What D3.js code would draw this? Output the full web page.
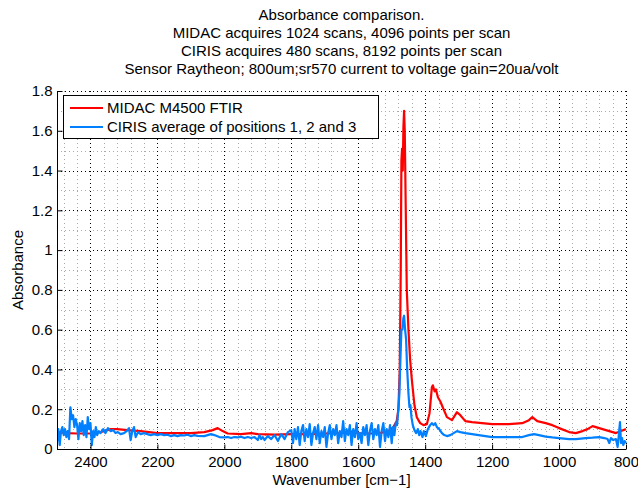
<!DOCTYPE html>
<html><head><meta charset="utf-8">
<script src="https://cdn.jsdelivr.net/npm/d3@7"></script>
<style>body{margin:0;background:#fff}svg{display:block}text{font-family:"Liberation Sans",Arial,sans-serif}</style>
</head><body><div id="chart"></div>
<script>
const titleLines = ["Absorbance comparison.","MIDAC acquires 1024 scans, 4096 points per scan","CIRIS acquires 480 scans, 8192 points per scan","Sensor Raytheon; 800um;sr570 current to voltage gain=20ua/volt"];
const xLabel = "Wavenumber [cm\u22121]";
const yLabel = "Absorbance";
const seriesNames = ["MIDAC M4500 FTIR","CIRIS average of positions 1, 2 and 3"];
const xTicks = [2400,2200,2000,1800,1600,1400,1200,1000,800];
const yTicks = [0,0.2,0.4,0.6,0.8,1,1.2,1.4,1.6,1.8];

const midacWn = [2500,2470,2440,2400,2370,2340,2320,2290,2250,2200,2150,2100,2060,2035,2020,2005,1990,1950,1920,1900,1850,1800,1750,1700,1650,1620,1600,1560,1530,1510,1495,1485,1480,1476,1473,1471,1469,1467,1465,1463,1461,1458,1455,1450,1445,1440,1432,1425,1415,1405,1395,1387,1380,1377,1372,1368,1362,1355,1345,1335,1320,1305,1295,1280,1260,1230,1200,1150,1110,1090,1080,1065,1040,1020,1000,970,950,930,915,900,890,870,850,830,815,800];
const midacAbs = [0.085,0.08,0.078,0.078,0.085,0.1,0.1,0.095,0.09,0.08,0.08,0.08,0.085,0.095,0.105,0.09,0.078,0.075,0.08,0.075,0.072,0.075,0.075,0.078,0.08,0.088,0.08,0.078,0.082,0.09,0.11,0.14,0.2,0.4,0.9,1.45,1.51,1.4,1.62,1.70,1.6,1.2,0.8,0.6,0.45,0.35,0.22,0.16,0.13,0.12,0.125,0.18,0.31,0.32,0.29,0.3,0.26,0.24,0.2,0.16,0.145,0.185,0.17,0.14,0.135,0.13,0.125,0.125,0.13,0.145,0.16,0.14,0.13,0.12,0.105,0.085,0.08,0.09,0.1,0.115,0.11,0.1,0.09,0.08,0.09,0.1];

const cirisWn = [2500,2496,2492,2488,2484,2480,2476,2472,2468,2464,2460,2456,2452,2448,2444,2440,2436,2432,2428,2424,2420,2416,2412,2408,2404,2400,2396,2392,2388,2384,2380,2375,2370,2362,2355,2348,2340,2332,2325,2318,2310,2300,2292,2285,2280,2275,2270,2265,2258,2250,2240,2230,2220,2210,2200,2190,2180,2170,2160,2150,2140,2130,2120,2110,2100,2090,2080,2060,2040,2030,2015,2000,1990,1980,1970,1960,1950,1940,1930,1920,1910,1900,1895,1890,1885,1880,1870,1860,1850,1840,1830,1820,1810,1800,1795,1790,1785,1780,1775,1770,1765,1760,1755,1750,1745,1740,1735,1730,1725,1720,1715,1710,1705,1700,1695,1690,1685,1680,1675,1670,1665,1660,1655,1650,1645,1640,1635,1630,1625,1620,1615,1610,1605,1600,1595,1590,1585,1580,1575,1570,1565,1560,1555,1550,1545,1540,1535,1530,1525,1520,1515,1510,1505,1500,1496,1492,1488,1484,1480,1477,1474,1471,1468,1465,1463,1460,1457,1454,1450,1447,1444,1441,1437,1432,1427,1422,1418,1414,1408,1404,1398,1392,1385,1380,1375,1370,1365,1358,1350,1343,1335,1325,1315,1305,1295,1280,1260,1240,1220,1200,1150,1110,1090,1075,1060,1040,1020,1000,970,950,920,900,880,865,855,850,845,838,830,825,822,818,815,812,808,804,800];
const cirisAbs = [0.04,0.10,0.02,0.09,0.11,0.07,0.10,0.06,0.09,0.05,0.21,0.15,0.17,0.11,0.15,0.12,0.05,0.13,0.09,0.14,0.07,0.12,0.06,0.16,0.10,0.13,0.02,0.09,0.06,0.11,0.07,0.09,0.08,0.10,0.08,0.105,0.09,0.095,0.08,0.085,0.075,0.08,0.09,0.105,0.045,0.09,0.11,0.06,0.085,0.075,0.08,0.075,0.07,0.075,0.07,0.075,0.07,0.072,0.065,0.07,0.065,0.07,0.068,0.072,0.065,0.07,0.066,0.065,0.075,0.07,0.06,0.058,0.06,0.055,0.06,0.058,0.062,0.055,0.06,0.055,0.06,0.045,0.07,0.05,0.06,0.045,0.065,0.05,0.07,0.04,0.075,0.05,0.085,0.095,0.03,0.10,0.05,0.11,0.02,0.09,0.12,0.04,0.10,0.06,0.125,0.02,0.08,0.11,0.05,0.12,0.03,0.09,0.06,0.11,0.01,0.08,0.12,0.05,0.10,0.07,0.12,0.03,0.09,0.06,0.14,0.04,0.10,0.07,0.12,0.02,0.10,0.06,0.13,0.05,0.08,0.03,0.11,0.07,0.12,0.02,0.09,0.13,0.05,0.10,0.07,0.12,0.01,0.09,0.13,0.04,0.10,0.06,0.12,0.03,0.11,0.07,0.13,0.12,0.20,0.28,0.45,0.60,0.60,0.66,0.67,0.60,0.55,0.41,0.28,0.21,0.22,0.16,0.12,0.095,0.08,0.10,0.07,0.09,0.06,0.09,0.065,0.10,0.12,0.13,0.12,0.13,0.11,0.10,0.08,0.07,0.065,0.07,0.08,0.09,0.085,0.08,0.075,0.07,0.065,0.06,0.06,0.06,0.07,0.075,0.07,0.062,0.058,0.055,0.05,0.05,0.055,0.057,0.06,0.055,0.05,0.03,0.055,0.045,0.05,0.01,0.06,0.135,0.03,0.055,0.02,0.04,0.03];

const W = 638, H = 490;
const m = {left:57, right:626, top:91, bottom:449};
const FS = 15;
const svg = d3.select("#chart").append("svg").attr("width",W).attr("height",H);
const x = d3.scaleLinear().domain([2500,800]).range([m.left,m.right]);
const y = d3.scaleLinear().domain([0,1.8]).range([m.bottom,m.top]);

// minor grid
const xMinor = d3.range(2480, 799, -40).filter(v => v % 200 !== 0);
const yMinor = d3.range(1,18,2).map(d => d/10);
const g = svg.append("g");
g.selectAll(".vx").data(xMinor).join("line")
  .attr("x1",d=>Math.round(x(d))+0.5).attr("x2",d=>Math.round(x(d))+0.5).attr("y1",m.top).attr("y2",m.bottom)
  .attr("stroke","#aaa").attr("stroke-width",1).attr("stroke-dasharray","1,3");
g.selectAll(".hy").data(yMinor).join("line")
  .attr("y1",d=>Math.round(y(d))+0.5).attr("y2",d=>Math.round(y(d))+0.5).attr("x1",m.left).attr("x2",m.right)
  .attr("stroke","#aaa").attr("stroke-width",1).attr("stroke-dasharray","1,3");
// major grid
g.selectAll(".mx").data(xTicks).join("line")
  .attr("x1",d=>Math.round(x(d))+0.5).attr("x2",d=>Math.round(x(d))+0.5).attr("y1",m.top).attr("y2",m.bottom)
  .attr("stroke","#000").attr("stroke-width",1).attr("stroke-dasharray","1,3");
g.selectAll(".my").data(yTicks.filter(d=>d>0)).join("line")
  .attr("y1",d=>Math.round(y(d))+0.5).attr("y2",d=>Math.round(y(d))+0.5).attr("x1",m.left).attr("x2",m.right)
  .attr("stroke","#000").attr("stroke-width",1).attr("stroke-dasharray","1,3");

// data
svg.append("clipPath").attr("id","clip").append("rect")
  .attr("x",m.left).attr("y",m.top-2).attr("width",m.right-m.left+2).attr("height",m.bottom-m.top+2);
const line = d3.line().x(d=>x(d[0])).y(d=>y(d[1]));
const midac = midacWn.map((w,i)=>[w,midacAbs[i]]);
const ciris = cirisWn.map((w,i)=>[w,cirisAbs[i]]);
const colors = ["#ff0000","#0080ff"];
svg.append("path").datum(midac).attr("d",line).attr("fill","none").attr("stroke",colors[0])
  .attr("stroke-width",2.2).attr("stroke-linejoin","round").attr("clip-path","url(#clip)");
svg.append("path").datum(ciris).attr("d",line).attr("fill","none").attr("stroke",colors[1])
  .attr("stroke-width",2.2).attr("stroke-linejoin","round").attr("clip-path","url(#clip)");

// axes
const xAxis = d3.axisBottom(x).tickValues(xTicks).tickSize(-5).tickPadding(7).tickFormat(d3.format("d"));
const yAxis = d3.axisLeft(y).tickValues(yTicks).tickSize(-5).tickPadding(5).tickFormat(d=>String(+d.toFixed(1)));
const gx = svg.append("g").attr("transform",`translate(0,${m.bottom+0.5})`).call(xAxis);
const gy = svg.append("g").attr("transform",`translate(${m.left+0.5},0)`).call(yAxis);
[gx,gy].forEach(a=>{
  a.select(".domain").attr("stroke","#000").attr("stroke-width",1);
  a.selectAll(".tick line").attr("stroke","#000");
  a.selectAll("text").attr("font-size",FS).attr("fill","#000").attr("font-family",'"Liberation Sans",Arial,sans-serif');
});
gx.select(".domain").attr("d",`M${m.left},0H${m.right}`);
gy.select(".domain").attr("d",`M0,${m.bottom}V${m.top}`);

// titles
svg.append("g").selectAll("text").data(titleLines).join("text")
  .attr("x",(m.left+m.right)/2).attr("y",(d,i)=>20+i*18).attr("text-anchor","middle")
  .attr("font-size",FS).text(d=>d);
svg.append("text").attr("x",(m.left+m.right)/2).attr("y",485).attr("text-anchor","middle")
  .attr("font-size",FS).text(xLabel);
svg.append("text").attr("transform",`translate(23,${(m.top+m.bottom)/2}) rotate(-90)`)
  .attr("text-anchor","middle").attr("font-size",FS).text(yLabel);

// legend
const lg = svg.append("g");
lg.append("rect").attr("x",63.5).attr("y",95.5).attr("width",315).attr("height",43)
  .attr("fill","#fff").attr("stroke","#000").attr("stroke-width",1);
seriesNames.forEach((s,i)=>{
  const yy = 108 + i*19;
  lg.append("line").attr("x1",70).attr("x2",103).attr("y1",yy).attr("y2",yy)
    .attr("stroke",colors[i]).attr("stroke-width",2.2);
  lg.append("text").attr("x",107).attr("y",yy+5).attr("font-size",FS).text(s);
});
</script></body></html>
